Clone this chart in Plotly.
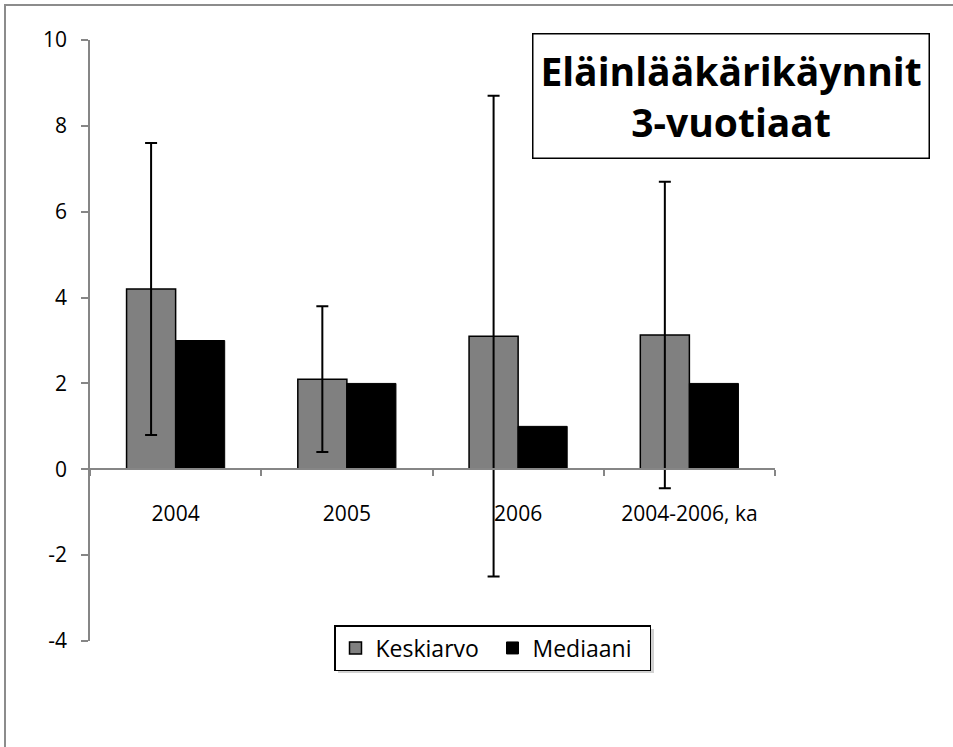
import plotly.graph_objects as go

categories = ["2004", "2005", "2006", "2004-2006, ka"]
keskiarvo = [4.2, 2.1, 3.1, 3.13]
keskiarvo_err = [3.4, 1.7, 5.6, 3.57]
mediaani = [3.0, 2.0, 1.0, 2.0]
y_ticks = [-4, -2, 0, 2, 4, 6, 8, 10]
y_ticktext = ["-4", "-2", "0", "2", "4", "6", "8", "10"]

FONT = "Open Sans"
AXIS = "#868686"
W, H = 953, 747
L, R, T, B = 90, 178, 40, 106
YMIN, YMAX = -4, 10

fig = go.Figure()
fig.add_trace(go.Bar(
    x=categories, y=keskiarvo, name="Keskiarvo",
    marker=dict(color="#808080", line=dict(color="#000000", width=1.5)),
    error_y=dict(type="data", array=keskiarvo_err, visible=True,
                 color="#000000", thickness=2, width=6),
))
fig.add_trace(go.Bar(
    x=categories, y=mediaani, name="Mediaani",
    marker=dict(color="#000000", line=dict(color="#000000", width=1)),
))

x0_pos = (0 - YMIN) / (YMAX - YMIN)

pw = W - L - R
ph = H - T - B
def px(x):
    return (x - L) / pw
def py(y):
    return (H - B - y) / ph

fig.update_layout(
    width=W, height=H,
    margin=dict(l=L, r=R, t=T, b=B, pad=0),
    paper_bgcolor="white", plot_bgcolor="white",
    barmode="group", bargap=0.427, bargroupgap=0,
    font=dict(family=FONT, size=21, color="#000000"),
    showlegend=True,
    legend=dict(
        orientation="h", x=px(334), y=py(625), xanchor="left", yanchor="top",
        bordercolor="#000000", borderwidth=1.5, bgcolor="white",
        font=dict(family=FONT, size=23, color="#000000"),
        itemwidth=30, traceorder="normal",
        entrywidth=112, entrywidthmode="pixels",
    ),
    xaxis=dict(
        type="category", anchor="free", position=x0_pos,
        showline=True, linecolor=AXIS, linewidth=1.5,
        ticks="outside", tickson="boundaries", ticklen=6, tickcolor=AXIS, tickwidth=1.5,
        showgrid=False, zeroline=False, ticklabelstandoff=26,
        tickfont=dict(family=FONT, size=21, color="#000000"),
    ),
    yaxis=dict(
        range=[YMIN, YMAX], tickvals=y_ticks, ticktext=y_ticktext,
        showline=True, linecolor=AXIS, linewidth=1.5,
        ticks="outside", ticklen=7, tickcolor=AXIS, tickwidth=1.5,
        showgrid=False, zeroline=False, ticklabelstandoff=10,
        tickfont=dict(family=FONT, size=21, color="#000000"),
    ),
)

# outer chart border
fig.add_shape(type="rect", xref="paper", yref="paper",
              x0=px(5), x1=px(960), y0=py(760), y1=py(5),
              line=dict(color="#8c8c8c", width=2), fillcolor="rgba(0,0,0,0)", layer="below")

# legend shadow
fig.add_shape(type="rect", xref="paper", yref="paper",
              x0=px(338), x1=px(654), y0=py(673), y1=py(629),
              line=dict(width=0), fillcolor="rgba(0,0,0,0.18)", layer="above")

# title box
fig.add_annotation(
    xref="paper", yref="paper", x=px(731), y=py(96), xanchor="center", yanchor="middle",
    text="<b>Eläinlääkärikäynnit<br>3-vuotiaat</b>", showarrow=False,
    font=dict(family=FONT, size=39, color="#000000"), align="center",
    bordercolor="#000000", borderwidth=1.5, bgcolor="white",
    width=393, height=121,
)

fig.write_html("out.html", config={"displayModeBar": False},
               post_script="document.body.style.margin='0';document.body.style.overflow='hidden';")
